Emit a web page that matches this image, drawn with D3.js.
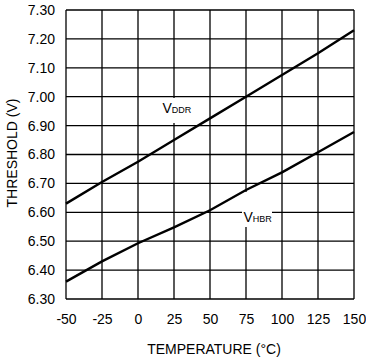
<!DOCTYPE html>
<html><head><meta charset="utf-8">
<script src="https://cdn.jsdelivr.net/npm/d3@7"></script>
<style>
html,body{margin:0;padding:0;background:#fff;}
text{font-family:"Liberation Sans",Arial,Helvetica,sans-serif;fill:#000;}
</style></head>
<body><svg id="c" width="366" height="358"></svg>
<script>
const temps = [-50, -25, 0, 25, 50, 75, 100, 125, 150];
const vddr = [6.63, 6.705, 6.775, 6.85, 6.925, 7.00, 7.075, 7.15, 7.23];
const vhbr = [6.36, 6.43, 6.493, 6.548, 6.607, 6.677, 6.738, 6.808, 6.878];
const xTicks = [-50, -25, 0, 25, 50, 75, 100, 125, 150];
const yTicks = [6.3, 6.4, 6.5, 6.6, 6.7, 6.8, 6.9, 7.0, 7.1, 7.2, 7.3];
const xTitle = "TEMPERATURE (°C)";
const yTitle = "THRESHOLD (V)";

const L = 66, R = 354, T = 10, B = 299;
const svg = d3.select("#c");
const x = d3.scaleLinear().domain([-50, 150]).range([L, R]);
const y = d3.scaleLinear().domain([6.3, 7.3]).range([B, T]);

// grid
const g = svg.append("g");
g.selectAll("line.v").data(xTicks).join("line")
  .attr("x1", d => x(d)).attr("x2", d => x(d)).attr("y1", T).attr("y2", B)
  .attr("stroke", "#000").attr("stroke-width", 1.3);
g.selectAll("line.h").data(yTicks).join("line")
  .attr("y1", d => y(d)).attr("y2", d => y(d)).attr("x1", L).attr("x2", R)
  .attr("stroke", "#000").attr("stroke-width", 1.3);

// axes labels
const xa = svg.append("g").attr("transform", `translate(0,${B})`)
  .call(d3.axisBottom(x).tickValues(xTicks).tickSize(0).tickPadding(0).tickFormat(d => d));
xa.select(".domain").remove();
xa.selectAll("text").attr("dy", null).attr("y", 25).style("font-size", "14px")
  .style("font-family", '"Liberation Sans",Arial,sans-serif').attr("fill", "#000");

const ya = svg.append("g").attr("transform", `translate(${L},0)`)
  .call(d3.axisLeft(y).tickValues(yTicks).tickSize(0).tickPadding(11).tickFormat(d3.format(".2f")));
ya.select(".domain").remove();
ya.selectAll("text").style("font-size", "14px")
  .style("font-family", '"Liberation Sans",Arial,sans-serif').attr("fill", "#000");

// label boxes
svg.append("rect").attr("x", 160).attr("y", 98).attr("width", 32).attr("height", 25).attr("fill", "#fff");
svg.append("rect").attr("x", 242).attr("y", 192).attr("width", 30).attr("height", 35).attr("fill", "#fff");

// lines
const line = d3.line().x((d, i) => x(temps[i])).y(d => y(d));
[vddr, vhbr].forEach(s => {
  svg.append("path").datum(s).attr("d", line)
    .attr("fill", "none").attr("stroke", "#000").attr("stroke-width", 2.4);
});

// series labels
function lab(xp, yp, sub) {
  const t = svg.append("text").attr("x", xp).attr("y", yp).style("font-size", "14px");
  t.append("tspan").text("V");
  t.append("tspan").style("font-size", "9px").text(sub);
}
lab(162.5, 112.7, "DDR");
lab(243.5, 221.7, "HBR");

// titles
svg.append("text").attr("x", (L + R) / 2 + 4).attr("y", 354).attr("text-anchor", "middle")
  .style("font-size", "14px").text(xTitle);
svg.append("text").attr("transform", `translate(16.5,153) rotate(-90)`)
  .attr("text-anchor", "middle").style("font-size", "14px").text(yTitle);
</script></body></html>
